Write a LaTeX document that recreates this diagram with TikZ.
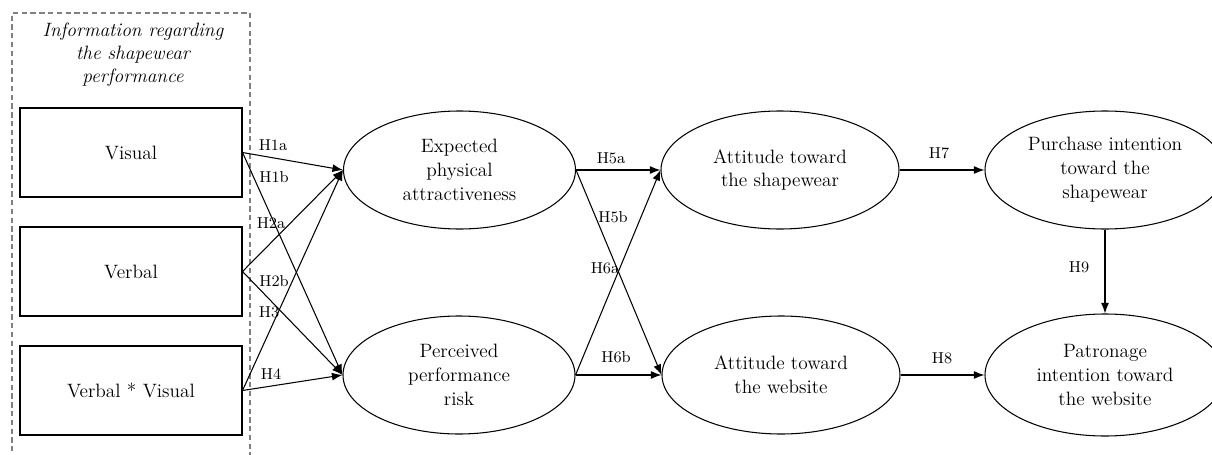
\documentclass[tikz,border=0pt]{standalone}
\usetikzlibrary{shapes.geometric, arrows.meta}

\begin{document}
\begin{tikzpicture}[
   infobox/.style={draw, semithick, minimum width=4.44cm, minimum height=1.78cm, font=\fontsize{11}{13.6}\selectfont},
   construct/.style={ellipse, draw, semithick, minimum width=4.64cm, minimum height=2.36cm, inner sep=0pt, align=center, font=\fontsize{11}{13.6}\selectfont},
   hyp/.style={font=\fontsize{9}{11}\selectfont, inner sep=1pt},
   link/.style={-{Latex[length=6pt,width=4.5pt]}, semithick}
]
   %\draw[step=1cm,gray,very thin] (0,0) grid (24,9);
   \useasboundingbox (0,0) rectangle (24.24,9.08);

   % information block
   \draw[densely dashed, gray, semithick] (0.24,-0.3) rectangle (5.0,8.82);
   \node (info) [align=center, font=\fontsize{11}{13}\selectfont\itshape] at (2.66,7.98)
      {Information regarding\\the shapewear\\performance};

   \node (visual)   [infobox] at (2.62,6.03) {Visual};
   \node (verbal)   [infobox] at (2.62,3.65) {Verbal};
   \node (interact) [infobox] at (2.62,1.27) {Verbal * Visual};

   % constructs
   \node (attract)  [construct] at (9.19,5.68) {Expected\\physical\\attractiveness};
   \node (risk)     [construct] at (9.18,1.58) {Perceived\\performance\\risk};
   \node (attshape) [construct, minimum width=4.76cm] at (15.60,5.68) {Attitude toward\\the shapewear};
   \node (attweb)   [construct, minimum width=4.76cm] at (15.62,1.58) {Attitude toward\\the website};
   \node (purchase) [construct, minimum width=4.8cm] at (22.10,5.68) {Purchase intention\\toward the\\shapewear};
   \node (patron)   [construct, minimum width=4.8cm, minimum height=2.44cm] at (22.10,1.58) {Patronage\\intention toward\\the website};

   % paths
   \draw [link] (visual.east) -- (attract.west);
   \draw [link] (visual.east) -- (risk.west);
   \draw [link] (verbal.east) -- (attract.west);
   \draw [link] (verbal.east) -- (risk.west);
   \draw [link] (interact.east) -- (attract.west);
   \draw [link] (interact.east) -- (risk.west);

   \draw [link] (attract.east) -- (attshape.west);
   \draw [link] (attract.east) -- (attweb.west);
   \draw [link] (risk.east) -- (attshape.west);
   \draw [link] (risk.east) -- (attweb.west);

   \draw [link] (attshape.east) -- (purchase.west);
   \draw [link] (attweb.east) -- (patron.west);
   \draw [link] (purchase.south) -- (patron.north);

   % hypotheses
   \node (h1a) [hyp] at (5.46,6.18) {H1a};
   \node (h1b) [hyp] at (5.48,5.54) {H1b};
   \node (h2a) [hyp] at (5.42,4.62) {H2a};
   \node (h2b) [hyp] at (5.48,3.46) {H2b};
   \node (h3)  [hyp] at (5.38,2.84) {H3};
   \node (h4)  [hyp] at (5.42,1.60) {H4};

   \node (h5a) [hyp] at (12.22,5.92) {H5a};
   \node (h5b) [hyp] at (12.26,4.74) {H5b};
   \node (h6a) [hyp] at (12.10,3.72) {H6a};
   \node (h6b) [hyp] at (12.32,1.94) {H6b};

   \node (h7) [hyp] at (18.78,6.02) {H7};
   \node (h8) [hyp] at (18.84,1.92) {H8};
   \node (h9) [hyp] at (21.58,3.74) {H9};

\end{tikzpicture}
\end{document}
